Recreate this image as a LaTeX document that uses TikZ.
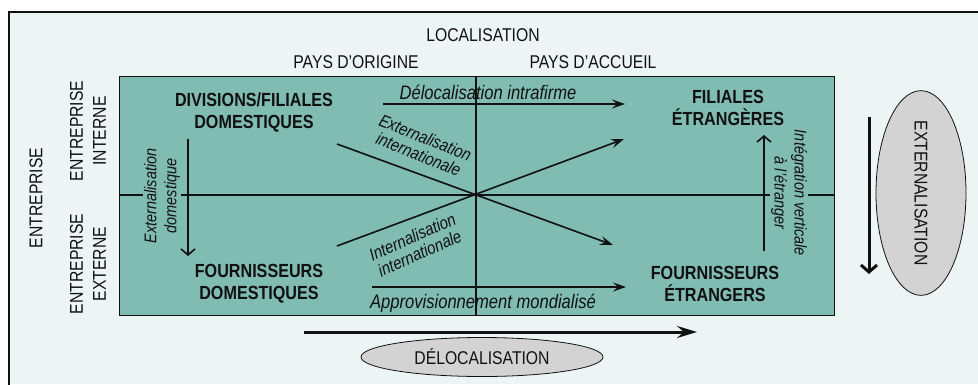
\documentclass[tikz,border=0pt]{standalone}
\usepackage{fontspec}
\setmainfont{Liberation Sans}[FakeStretch=0.85]
\usetikzlibrary{arrows.meta,shapes.geometric}
\definecolor{bgc}{HTML}{EDF5F4}
\definecolor{boxteal}{HTML}{80BCB2}
\definecolor{ellgray}{HTML}{D3D3D3}
\definecolor{ink}{HTML}{111111}
\tikzset{
  reg/.style={inner sep=0pt, font=\fontsize{18.5}{23}\selectfont, text=ink, align=center},
  bld/.style={inner sep=0pt, font=\fontsize{19}{22}\bfseries\selectfont, text=ink, align=center},
  itl/.style={inner sep=0pt, font=\fontsize{19.5}{22}\itshape\selectfont, text=ink},
  sit/.style={inner sep=0pt, font=\fontsize{17.5}{18}\itshape\selectfont, text=ink, align=center},
  vit/.style={inner sep=1pt, font=\fontsize{17}{20}\itshape\selectfont, text=ink, align=center, fill=boxteal},
  gridline/.style={line width=1.5pt, draw=ink},
  harr/.style={line width=1.6pt, draw=ink, -{Stealth[length=13pt,width=9pt,inset=5pt]}},
  varr/.style={line width=1.6pt, draw=ink, -{Straight Barb[length=6pt,width=14pt]}},
  bigharr/.style={line width=3pt, draw=ink, -{Stealth[length=20pt,width=12pt,inset=7pt]}},
  bigvarr/.style={line width=3pt, draw=ink, -{Straight Barb[length=7pt,width=16pt]}},
  ell/.style={ellipse, draw=ink, line width=0.8pt, fill=ellgray, inner sep=0pt,
              font=\fontsize{18.5}{22}\selectfont, text=ink}
}
\begin{document}
\begin{tikzpicture}[x=1pt,y=-1pt]
\useasboundingbox (0,0) rectangle (978,384);
\fill[bgc] (9,12) rectangle (978,384);
\draw[line width=2pt, draw=ink] (9,390) -- (9,12) -- (985,12);

% teal box
\draw[fill=boxteal, line width=1pt, draw=ink] (119,76) rectangle (834,315);
\coordinate (hl) at (119,195);
\coordinate (hr) at (834,195);
\coordinate (vt) at (476,76);
\coordinate (vb) at (476,315);
\draw[gridline] (hl) -- (hr);
\draw[gridline] (vt) -- (vb);

% headings
\node[reg] (loc) at (483,35) {LOCALISATION};
\node[reg] (orig) at (356,62) {PAYS D’ORIGINE};
\node[reg] (acc) at (593,62) {PAYS D’ACCUEIL};
\node[reg, rotate=90] (ent) at (36,198) {ENTREPRISE};
\node[reg, rotate=90] (entint) at (88,131) {ENTREPRISE\\INTERNE};
\node[reg, rotate=90] (entext) at (88,264) {ENTREPRISE\\EXTERNE};

% quadrant labels
\node[bld] (divdom) at (254,112) {DIVISIONS/FILIALES\\DOMESTIQUES};
\node[bld] (fourdom) at (259,284) {FOURNISSEURS\\DOMESTIQUES};
\node[bld] (filetr) at (728,108) {FILIALES\\ÉTRANGÈRES};
\node[bld] (fouretr) at (715,284) {FOURNISSEURS\\ÉTRANGERS};

% filled vertical labels
\node[vit, rotate=90] (extdom) at (162,196) {Externalisation\\domestique};
\node[vit, rotate=-90] (integ) at (789,193) {Intégration verticale\\à l’étranger};

% horizontal arrows
\coordinate (d1) at (383,104);
\coordinate (d2) at (625,104);
\draw[harr] (d1) -- (d2);
\node[itl] (delintra) at (488,92) {Délocalisation intrafirme};

\coordinate (a1) at (372,287);
\coordinate (a2) at (626,287);
\draw[harr] (a1) -- (a2);
\node[itl] (appro) at (483,303) {Approvisionnement mondialisé};

% diagonals
\coordinate (e1) at (337,144);
\coordinate (e2) at (613,245);
\draw[harr] (e1) -- (e2);
\node[sit, rotate=-22] (extint) at (422,146) {Externalisation\\internationale};

\coordinate (i1) at (337,246);
\coordinate (i2) at (624,139);
\draw[harr] (i1) -- (i2);
\node[sit, rotate=24] (intint) at (416,245) {Internalisation\\internationale};

% vertical arrows
\coordinate (x1) at (188,139);
\coordinate (x2) at (188,256);
\draw[varr] (x1) -- (x2);
\coordinate (g1) at (764,251);
\coordinate (g2) at (764,135);
\draw[varr] (g1) -- (g2);

% big arrows and ellipses
\coordinate (b1) at (304,332);
\coordinate (b2) at (697,332);
\draw[bigharr] (b1) -- (b2);
\node[ell, minimum width=242pt, minimum height=39pt] (deloc) at (482,357) {DÉLOCALISATION};

\coordinate (c1) at (869,117);
\coordinate (c2) at (869,274);
\draw[bigvarr] (c1) -- (c2);
\node[ell, rotate=-90, minimum width=167pt, minimum height=90pt] (extern) at (921,193) {EXTERNALISATION};
\end{tikzpicture}
\end{document}
